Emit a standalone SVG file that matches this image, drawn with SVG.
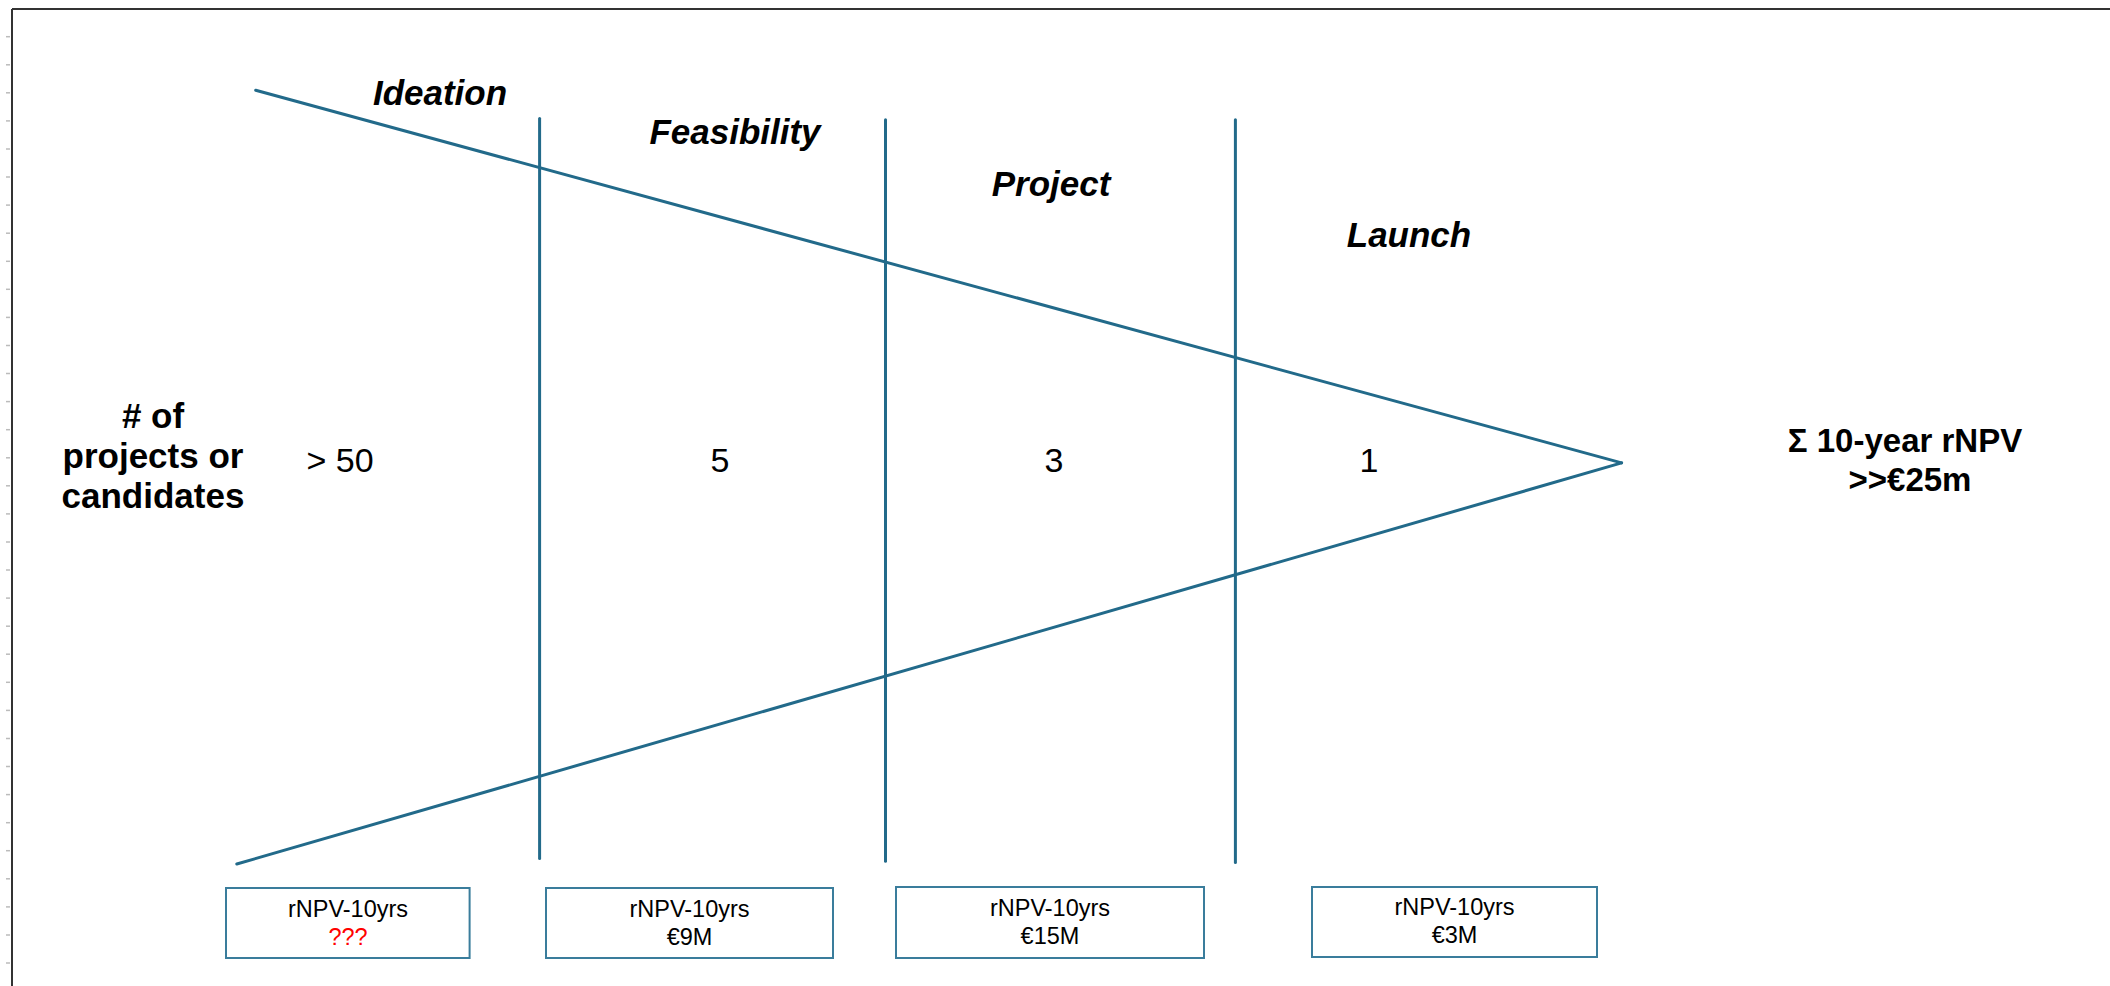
<svg xmlns="http://www.w3.org/2000/svg" width="2110" height="986" viewBox="0 0 2110 986">
<style>
.ln{stroke:#226a8a;stroke-width:3;fill:none;stroke-linecap:round}
.stage{font-family:"Liberation Sans",Arial,sans-serif;font-weight:bold;font-style:italic;font-size:35px;fill:#000;text-anchor:middle}
.lbl{font-family:"Liberation Sans",Arial,sans-serif;font-weight:bold;font-size:35px;fill:#000;text-anchor:middle}
.tot{font-family:"Liberation Sans",Arial,sans-serif;font-weight:bold;font-size:33px;fill:#000;text-anchor:middle}
.num{font-family:"Liberation Sans",Arial,sans-serif;font-size:34px;fill:#000;text-anchor:middle}
.box{fill:#fff;stroke:#3a7d9c;stroke-width:2}
.bt{font-family:"Liberation Sans",Arial,sans-serif;font-size:23.5px;fill:#000;text-anchor:middle}
.tick{stroke:#bbb;stroke-width:1.5}
</style>
<rect width="2110" height="986" fill="#fff"/>
<g id="frame">
<line x1="12" y1="9" x2="2110" y2="9" stroke="#333" stroke-width="2"/>
<line x1="12" y1="9" x2="12" y2="986" stroke="#333" stroke-width="2"/>
<g class="tick">
<line x1="6" y1="36.7" x2="10" y2="36.7"/><line x1="6" y1="64.8" x2="10" y2="64.8"/><line x1="6" y1="92.8" x2="10" y2="92.8"/><line x1="6" y1="120.9" x2="10" y2="120.9"/><line x1="6" y1="149" x2="10" y2="149"/><line x1="6" y1="177" x2="10" y2="177"/><line x1="6" y1="205.1" x2="10" y2="205.1"/><line x1="6" y1="233.2" x2="10" y2="233.2"/><line x1="6" y1="261.3" x2="10" y2="261.3"/><line x1="6" y1="289.3" x2="10" y2="289.3"/><line x1="6" y1="317.4" x2="10" y2="317.4"/><line x1="6" y1="345.5" x2="10" y2="345.5"/><line x1="6" y1="373.5" x2="10" y2="373.5"/><line x1="6" y1="401.6" x2="10" y2="401.6"/><line x1="6" y1="429.7" x2="10" y2="429.7"/><line x1="6" y1="457.8" x2="10" y2="457.8"/><line x1="6" y1="485.8" x2="10" y2="485.8"/><line x1="6" y1="513.9" x2="10" y2="513.9"/><line x1="6" y1="542" x2="10" y2="542"/><line x1="6" y1="570" x2="10" y2="570"/><line x1="6" y1="598.1" x2="10" y2="598.1"/><line x1="6" y1="626.2" x2="10" y2="626.2"/><line x1="6" y1="654.2" x2="10" y2="654.2"/><line x1="6" y1="682.3" x2="10" y2="682.3"/><line x1="6" y1="710.4" x2="10" y2="710.4"/><line x1="6" y1="738.5" x2="10" y2="738.5"/><line x1="6" y1="766.5" x2="10" y2="766.5"/><line x1="6" y1="794.6" x2="10" y2="794.6"/><line x1="6" y1="822.7" x2="10" y2="822.7"/><line x1="6" y1="850.7" x2="10" y2="850.7"/><line x1="6" y1="878.8" x2="10" y2="878.8"/><line x1="6" y1="906.9" x2="10" y2="906.9"/><line x1="6" y1="935" x2="10" y2="935"/><line x1="6" y1="963" x2="10" y2="963"/>
</g>
</g>
<g id="connectors">
<line class="ln" x1="255.7" y1="90.2" x2="1621.6" y2="462.9"/>
<line class="ln" x1="236.8" y1="864" x2="1621.6" y2="462.9"/>
<line class="ln" x1="539.6" y1="118.4" x2="539.6" y2="858.6"/>
<line class="ln" x1="885.5" y1="119.8" x2="885.5" y2="861.3"/>
<line class="ln" x1="1235.4" y1="119.8" x2="1235.4" y2="862.6"/>
</g>
<g id="stage-ideation"><text class="stage" x="440" y="105">Ideation</text></g>
<g id="stage-feasibility"><text class="stage" x="735" y="144">Feasibility</text></g>
<g id="stage-project"><text class="stage" x="1051" y="196">Project</text></g>
<g id="stage-launch"><text class="stage" x="1409" y="247">Launch</text></g>
<g id="axis-label">
<text class="lbl" x="153" y="428">#  of</text>
<text class="lbl" x="153" y="468">projects or</text>
<text class="lbl" x="153" y="508">candidates</text>
</g>
<g id="count-ideation"><text class="num" x="340" y="472">&gt; 50</text></g>
<g id="count-feasibility"><text class="num" x="720" y="472">5</text></g>
<g id="count-project"><text class="num" x="1054" y="472">3</text></g>
<g id="count-launch"><text class="num" x="1369" y="472">1</text></g>
<g id="total">
<text class="tot" x="1905" y="452">Σ 10-year rNPV</text>
<text class="tot" x="1910" y="491">&gt;&gt;€25m</text>
</g>
<g id="box-ideation">
<rect class="box" x="226" y="888" width="243.6" height="70"/>
<text class="bt" x="348" y="917">rNPV-10yrs</text>
<text class="bt" x="348" y="945" style="fill:#ff0000">???</text>
</g>
<g id="box-feasibility">
<rect class="box" x="546" y="888" width="287" height="70"/>
<text class="bt" x="689.5" y="917">rNPV-10yrs</text>
<text class="bt" x="689.5" y="945">€9M</text>
</g>
<g id="box-project">
<rect class="box" x="896" y="887" width="308" height="71"/>
<text class="bt" x="1050" y="916">rNPV-10yrs</text>
<text class="bt" x="1050" y="944">€15M</text>
</g>
<g id="box-launch">
<rect class="box" x="1312" y="887" width="285" height="70"/>
<text class="bt" x="1454.5" y="915">rNPV-10yrs</text>
<text class="bt" x="1454.5" y="943">€3M</text>
</g>
</svg>
